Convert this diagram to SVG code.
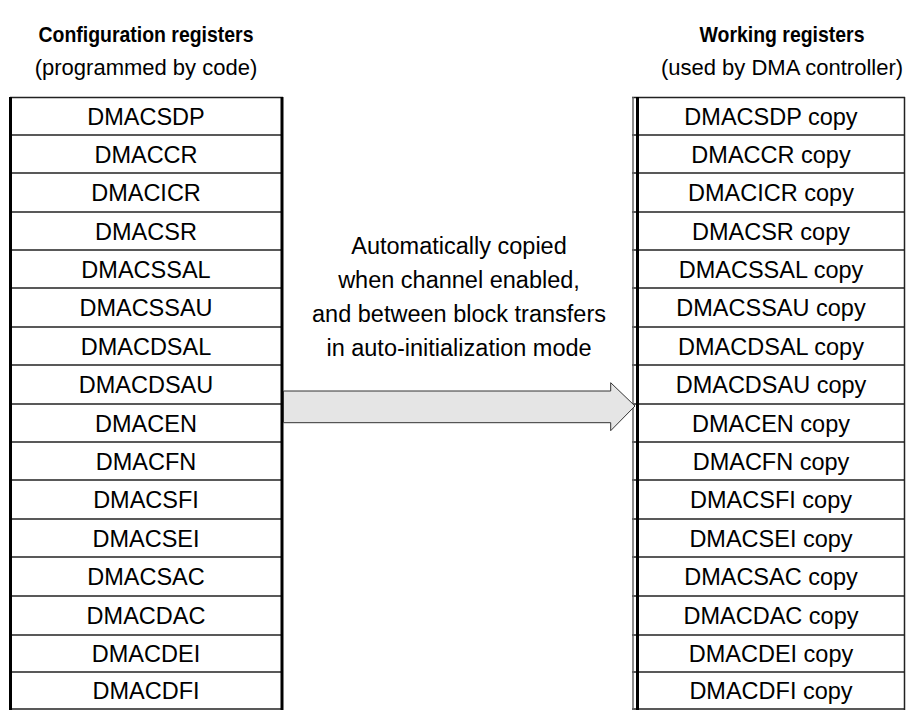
<svg xmlns="http://www.w3.org/2000/svg" width="907" height="711" viewBox="0 0 907 711">
<style>
text{font-family:"Liberation Sans",Arial,sans-serif;fill:#000}
.h{font-weight:bold;font-size:22px;text-anchor:middle}
.s{font-size:22px;text-anchor:middle}
.r{font-size:23.5px;text-anchor:middle}
.sep{stroke:#222;stroke-width:1.5}
.thick{stroke:#000;stroke-width:3}
.thin{stroke:#666;stroke-width:1.5}
</style>
<rect width="907" height="711" fill="#fff"/>
<g id="headers">
<text class="h" x="146" y="42" textLength="215" lengthAdjust="spacingAndGlyphs">Configuration registers</text>
<text class="s" x="146" y="75">(programmed by code)</text>
<text class="h" x="782" y="42" textLength="165" lengthAdjust="spacingAndGlyphs">Working registers</text>
<text class="s" x="782" y="75">(used by DMA controller)</text>
</g>
<g id="config-registers">
<line class="sep" x1="10" y1="97.5" x2="283" y2="97.5"/>
<line class="sep" x1="10" y1="135" x2="283" y2="135"/>
<line class="sep" x1="10" y1="173" x2="283" y2="173"/>
<line class="sep" x1="10" y1="212" x2="283" y2="212"/>
<line class="sep" x1="10" y1="250" x2="283" y2="250"/>
<line class="sep" x1="10" y1="288" x2="283" y2="288"/>
<line class="sep" x1="10" y1="327" x2="283" y2="327"/>
<line class="sep" x1="10" y1="365" x2="283" y2="365"/>
<line class="sep" x1="10" y1="404" x2="283" y2="404"/>
<line class="sep" x1="10" y1="442" x2="283" y2="442"/>
<line class="sep" x1="10" y1="480" x2="283" y2="480"/>
<line class="sep" x1="10" y1="519" x2="283" y2="519"/>
<line class="sep" x1="10" y1="557" x2="283" y2="557"/>
<line class="sep" x1="10" y1="596" x2="283" y2="596"/>
<line class="sep" x1="10" y1="635" x2="283" y2="635"/>
<line class="sep" x1="10" y1="672" x2="283" y2="672"/>
<line class="sep" x1="10" y1="709" x2="283" y2="709"/>
<line class="thick" x1="10.5" y1="97" x2="10.5" y2="710"/>
<line class="thick" x1="282" y1="97" x2="282" y2="710"/>
<text class="r" x="146" y="124.5">DMACSDP</text>
<text class="r" x="146" y="162.5">DMACCR</text>
<text class="r" x="146" y="201">DMACICR</text>
<text class="r" x="146" y="239.5">DMACSR</text>
<text class="r" x="146" y="277.5">DMACSSAL</text>
<text class="r" x="146" y="316">DMACSSAU</text>
<text class="r" x="146" y="354.5">DMACDSAL</text>
<text class="r" x="146" y="393">DMACDSAU</text>
<text class="r" x="146" y="431.5">DMACEN</text>
<text class="r" x="146" y="469.5">DMACFN</text>
<text class="r" x="146" y="508">DMACSFI</text>
<text class="r" x="146" y="546.5">DMACSEI</text>
<text class="r" x="146" y="585">DMACSAC</text>
<text class="r" x="146" y="623.5">DMACDAC</text>
<text class="r" x="146" y="662">DMACDEI</text>
<text class="r" x="146" y="699">DMACDFI</text>
</g>
<g id="working-registers">
<line class="sep" x1="632" y1="97.5" x2="905" y2="97.5"/>
<line class="sep" x1="632" y1="135" x2="905" y2="135"/>
<line class="sep" x1="632" y1="173" x2="905" y2="173"/>
<line class="sep" x1="632" y1="212" x2="905" y2="212"/>
<line class="sep" x1="632" y1="250" x2="905" y2="250"/>
<line class="sep" x1="632" y1="288" x2="905" y2="288"/>
<line class="sep" x1="632" y1="327" x2="905" y2="327"/>
<line class="sep" x1="632" y1="365" x2="905" y2="365"/>
<line class="sep" x1="632" y1="404" x2="905" y2="404"/>
<line class="sep" x1="632" y1="442" x2="905" y2="442"/>
<line class="sep" x1="632" y1="480" x2="905" y2="480"/>
<line class="sep" x1="632" y1="519" x2="905" y2="519"/>
<line class="sep" x1="632" y1="557" x2="905" y2="557"/>
<line class="sep" x1="632" y1="596" x2="905" y2="596"/>
<line class="sep" x1="632" y1="635" x2="905" y2="635"/>
<line class="sep" x1="632" y1="672" x2="905" y2="672"/>
<line class="sep" x1="632" y1="709" x2="905" y2="709"/>
<line class="thin" x1="633" y1="97" x2="633" y2="710"/>
<line class="thick" x1="637.5" y1="97" x2="637.5" y2="710"/>
<line class="sep" x1="904.5" y1="97" x2="904.5" y2="710"/>
<text class="r" x="771" y="124.5">DMACSDP copy</text>
<text class="r" x="771" y="162.5">DMACCR copy</text>
<text class="r" x="771" y="201">DMACICR copy</text>
<text class="r" x="771" y="239.5">DMACSR copy</text>
<text class="r" x="771" y="277.5">DMACSSAL copy</text>
<text class="r" x="771" y="316">DMACSSAU copy</text>
<text class="r" x="771" y="354.5">DMACDSAL copy</text>
<text class="r" x="771" y="393">DMACDSAU copy</text>
<text class="r" x="771" y="431.5">DMACEN copy</text>
<text class="r" x="771" y="469.5">DMACFN copy</text>
<text class="r" x="771" y="508">DMACSFI copy</text>
<text class="r" x="771" y="546.5">DMACSEI copy</text>
<text class="r" x="771" y="585">DMACSAC copy</text>
<text class="r" x="771" y="623.5">DMACDAC copy</text>
<text class="r" x="771" y="662">DMACDEI copy</text>
<text class="r" x="771" y="699">DMACDFI copy</text>
</g>
<g id="connectors">
<polygon points="283.5,391 610.7,391 610.7,382.7 635,406 610.7,430.7 610.7,422.7 283.5,422.7" fill="#e5e5e5" stroke="#333" stroke-width="1"/>
</g>
<g id="copy-label">
<text class="r" x="459" y="254">Automatically copied</text>
<text class="r" x="459" y="288">when channel enabled,</text>
<text class="r" x="459" y="322">and between block transfers</text>
<text class="r" x="459" y="356">in auto-initialization mode</text>
</g>
</svg>
